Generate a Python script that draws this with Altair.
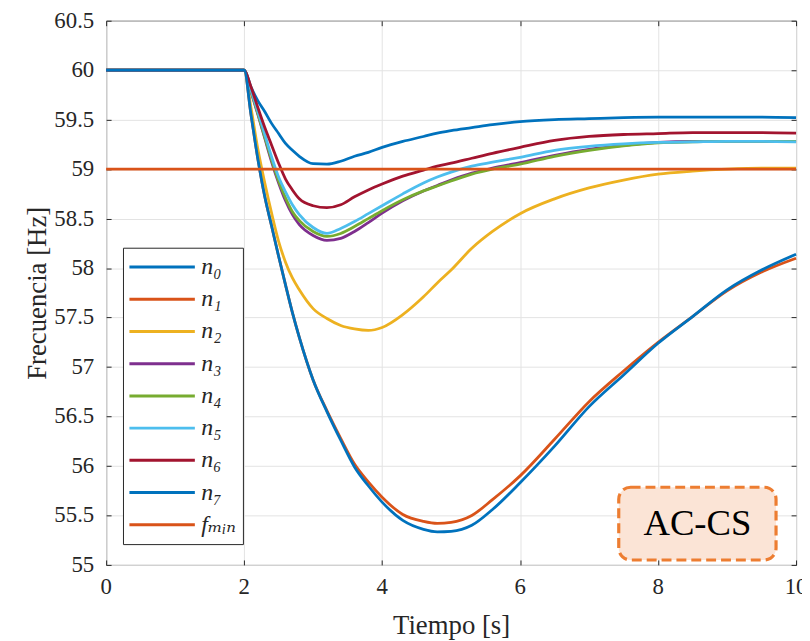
import altair as alt
import pandas as pd

# ---- data ----
t = [0, 2, 2.1, 2.2, 2.3, 2.4, 2.5, 2.6, 2.7, 2.8, 3.0, 3.2, 3.4, 3.6, 3.8, 4.0,
     4.3, 4.6, 4.8, 5.0, 5.3, 5.6, 6.0, 6.5, 7.0, 7.5, 8.0, 8.5, 9.0, 9.5, 10]
n0 = [60, 60, 59.83, 59.69, 59.58, 59.46, 59.36, 59.26, 59.19, 59.13, 59.055, 59.05, 59.08, 59.13,
      59.17, 59.22, 59.28, 59.33, 59.365, 59.39, 59.42, 59.45, 59.48, 59.50, 59.51, 59.52, 59.525,
      59.525, 59.525, 59.525, 59.52]
n1 = [60, 60, 59.55, 59.1, 58.72, 58.42, 58.12, 57.83, 57.55, 57.30, 56.87, 56.56, 56.28, 56.02,
      55.84, 55.685, 55.51, 55.44, 55.42, 55.43, 55.50, 55.66, 55.90, 56.27, 56.65, 56.96, 57.25,
      57.51, 57.77, 57.96, 58.10]
n2 = [60, 60, 59.62, 59.2, 58.86, 58.55, 58.27, 58.06, 57.9, 57.78, 57.59, 57.49, 57.42, 57.385,
      57.37, 57.40, 57.53, 57.71, 57.85, 57.98, 58.20, 58.37, 58.55, 58.70, 58.81, 58.89, 58.95,
      58.98, 59.0, 59.01, 59.01]
n3 = [60, 60, 59.78, 59.55, 59.31, 59.07, 58.86, 58.68, 58.54, 58.44, 58.33, 58.28, 58.30, 58.37,
      58.46, 58.555, 58.68, 58.78, 58.835, 58.89, 58.96, 59.01, 59.065, 59.14, 59.20, 59.24, 59.27,
      59.28, 59.28, 59.28, 59.28]
n4 = [60, 60, 59.79, 59.56, 59.32, 59.09, 58.88, 58.71, 58.57, 58.48, 58.37, 58.32, 58.35, 58.42,
      58.50, 58.58, 58.69, 58.78, 58.83, 58.88, 58.95, 59.0, 59.05, 59.13, 59.19, 59.235, 59.265,
      59.275, 59.28, 59.28, 59.28]
n5 = [60, 60, 59.8, 59.58, 59.35, 59.12, 58.92, 58.77, 58.64, 58.54, 58.41, 58.35, 58.40, 58.47,
      58.55, 58.63, 58.75, 58.86, 58.92, 58.97, 59.03, 59.07, 59.12, 59.19, 59.23, 59.255, 59.27,
      59.275, 59.28, 59.28, 59.275]
n6 = [60, 60, 59.83, 59.62, 59.42, 59.24, 59.06, 58.9, 58.79, 58.70, 58.63, 58.61, 58.64, 58.72,
      58.79, 58.85, 58.93, 58.99, 59.03, 59.06, 59.11, 59.16, 59.22, 59.29, 59.33, 59.35, 59.36,
      59.37, 59.37, 59.37, 59.365]
n7 = [60, 60, 59.55, 59.1, 58.72, 58.42, 58.12, 57.83, 57.55, 57.30, 56.87, 56.55, 56.26, 55.99,
      55.80, 55.635, 55.45, 55.36, 55.335, 55.34, 55.40, 55.56, 55.83, 56.20, 56.60, 56.92, 57.24,
      57.51, 57.78, 57.98, 58.14]
t_fmin = [0, 10]
fmin = [59, 59]

labels = ["n\u2080", "n\u2081", "n\u2082", "n\u2083", "n\u2084", "n\u2085", "n\u2086", "n\u2087",
          "f\u2098\u1d62\u2099"]
colors = ["#0072BD", "#D95319", "#EDB120", "#7E2F8E", "#77AC30", "#4DBEEE", "#A2142F",
          "#0072BD", "#D95319"]

x_ticks = [0, 2, 4, 6, 8, 10]
x_tick_labels = ["0", "2", "4", "6", "8", "10"]
y_ticks = [55, 55.5, 56, 56.5, 57, 57.5, 58, 58.5, 59, 59.5, 60, 60.5]
y_tick_labels = ["55", "55.5", "56", "56.5", "57", "57.5", "58", "58.5", "59", "59.5", "60", "60.5"]

box_x = [7.43, 9.71]
box_y = [55.05, 55.785]
box_text = "AC-CS"
text_pos = [8.57, 55.41]

# ---- table ----
rows = []
series = [n0, n1, n2, n3, n4, n5, n6, n7]
for i, s in enumerate(series):
    for tt, v in zip(t, s):
        rows.append({"t": tt, "f": v, "serie": labels[i], "k": i})
for tt, v in zip(t_fmin, fmin):
    rows.append({"t": tt, "f": v, "serie": labels[8], "k": 8})
df = pd.DataFrame(rows)

FONT = "Liberation Serif"
NUM_FONT = "Liberation Serif, DejaVu Serif, serif"
INK = "#262626"
W, H = 696, 549

x_scale = alt.Scale(domain=[0, 10], nice=False)
y_scale = alt.Scale(domain=[55, 60.5], nice=False, zero=False)

lines = alt.Chart(df).mark_line(strokeWidth=2.8, interpolate="monotone").encode(
    x=alt.X("t:Q", scale=x_scale, axis=alt.Axis(
        orient="bottom", values=x_ticks, labels=False, title="Tiempo [s]",
        offset=-5, tickSize=5, tickColor=INK, domain=False,
        grid=True, gridColor="#e3e3e3", gridWidth=1,
        titleFont=FONT, titleFontSize=27, titleFontWeight="normal", titleColor=INK,
        titlePadding=48)),
    y=alt.Y("f:Q", scale=y_scale, axis=alt.Axis(
        orient="left", values=y_ticks, labels=False, title="Frecuencia [Hz]",
        offset=-5, tickSize=5, tickColor=INK, domain=False,
        grid=True, gridColor="#e3e3e3", gridWidth=1,
        titleFont=FONT, titleFontSize=27, titleFontWeight="normal", titleColor=INK,
        titlePadding=55)),
    color=alt.Color("serie:N", scale=alt.Scale(domain=labels, range=colors), legend=alt.Legend(
        orient="none", legendX=17, legendY=229, title=None,
        strokeColor=INK, fillColor="white", padding=7, cornerRadius=0,
        symbolType="M-3,0H3", symbolSize=484, symbolStrokeWidth=3, symbolOffset=20,
        labelFont=NUM_FONT, labelFontSize=24, labelFontStyle="italic", labelColor=INK,
        labelOffset=27, rowPadding=7.5)),
    order=alt.Order("k:Q"),
    detail="k:N",
)

box_df = pd.DataFrame({"x": [box_x[0]], "x2": [box_x[1]], "y": [box_y[0]], "y2": [box_y[1]]})
box = alt.Chart(box_df).mark_rect(
    fill="#FBE4D6", stroke="#ED7D31", strokeWidth=3.2, strokeDash=[10, 5], cornerRadius=12
).encode(
    x=alt.X("x:Q", scale=x_scale, axis=alt.Axis(
        orient="top", values=x_ticks, labels=False, title=None, offset=-5, tickSize=5,
        tickColor=INK, domain=False, grid=False)),
    x2="x2:Q",
    y=alt.Y("y:Q", scale=y_scale, axis=alt.Axis(
        orient="right", values=y_ticks, labels=False, title=None, offset=-5, tickSize=5,
        tickColor=INK, domain=False, grid=False)),
    y2="y2:Q",
)

txt_df = pd.DataFrame({"x": [text_pos[0]], "y": [text_pos[1]], "s": [box_text]})
txt = alt.Chart(txt_df).mark_text(
    font=FONT, fontSize=37, color="black", align="center", baseline="middle"
).encode(
    x=alt.X("x:Q", scale=x_scale, axis=None),
    y=alt.Y("y:Q", scale=y_scale, axis=None),
    text="s:N",
)

# tick labels drawn as serif text from the tick lists, positioned by the scales
xlab_df = pd.DataFrame({"v": x_ticks, "s": x_tick_labels})
xlab = alt.Chart(xlab_df).mark_text(
    font=NUM_FONT, fontSize=23, color=INK, align="center", baseline="top"
).encode(
    x=alt.X("v:Q", scale=x_scale, axis=None),
    y=alt.value(H + 11),
    text="s:N",
)
ylab_df = pd.DataFrame({"v": y_ticks, "s": y_tick_labels})
ylab = alt.Chart(ylab_df).mark_text(
    font=NUM_FONT, fontSize=23, color=INK, align="right", baseline="middle"
).encode(
    x=alt.value(-12),
    y=alt.Y("v:Q", scale=y_scale, axis=None),
    text="s:N",
)

chart = alt.layer(lines, box, txt, xlab, ylab).resolve_axis(
    x="independent", y="independent"
).properties(
    width=W, height=H,
    autosize=alt.AutoSizeParams(type="none"),
    padding={"left": 99, "top": 10, "right": 6, "bottom": 84},
).configure_view(stroke=INK, strokeWidth=1)

chart.save("out.html", embed_options={"renderer": "svg", "actions": False})
